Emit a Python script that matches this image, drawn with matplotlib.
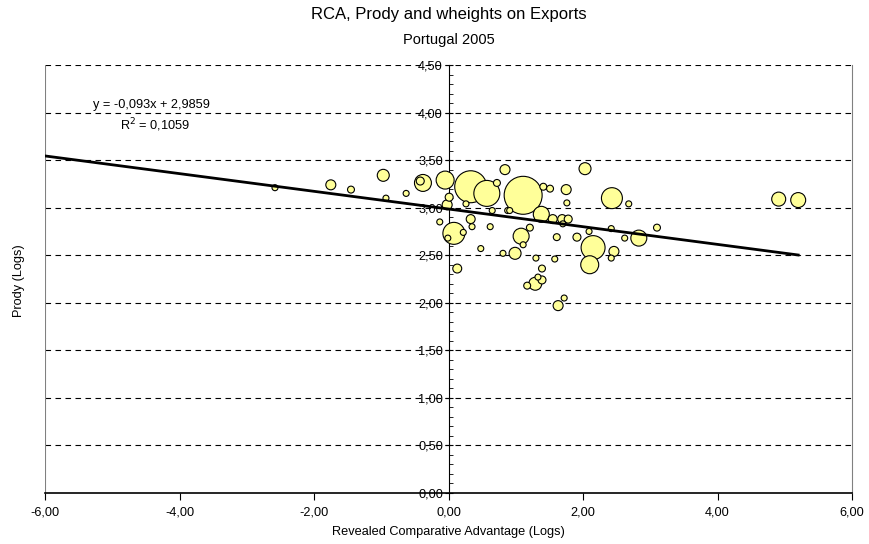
import matplotlib.pyplot as plt
import numpy as np
from matplotlib.ticker import FuncFormatter, MultipleLocator

plt.rcParams['font.family'] = ['Liberation Sans', 'DejaVu Sans']

# revealed comparative advantage (logs) per product
rca = [-2.58, -1.75, -1.45, -0.97, -0.93, -0.63, -0.38, -0.42, -0.05, 0.01,
       -0.02, -0.13, 0.08, -0.01, 0.22, 0.33, 0.35, 0.33, 0.57, 0.26,
       0.72, 0.84, 0.65, 0.62, 0.48, 0.88, 1.11, 0.81, 1.41, 1.51,
       1.75, 1.76, 2.03, 2.43, 2.68, 0.91, 1.38, 1.55, 1.69, 1.78,
       1.70, 1.21, 1.08, 1.11, 1.61, 1.91, 2.09, 2.42, 2.62, 2.83,
       3.10, 2.15, 2.10, 2.46, 2.42, 0.99, 1.30, 1.58, 0.13, 1.39,
       1.29, 1.17, 1.39, 1.33, 1.72, 1.63, 4.91, 5.20]
# prody (logs)
prody = [3.21, 3.24, 3.19, 3.34, 3.10, 3.15, 3.26, 3.28, 3.29, 3.11,
         3.03, 2.85, 2.73, 2.68, 2.74, 2.88, 2.80, 3.22, 3.15, 3.04,
         3.26, 3.40, 2.97, 2.80, 2.57, 2.97, 3.13, 2.52, 3.22, 3.20,
         3.19, 3.05, 3.41, 3.10, 3.04, 2.97, 2.93, 2.88, 2.88, 2.88,
         2.83, 2.79, 2.70, 2.61, 2.69, 2.69, 2.75, 2.78, 2.68, 2.68,
         2.79, 2.58, 2.40, 2.54, 2.47, 2.52, 2.47, 2.46, 2.36, 2.36,
         2.20, 2.18, 2.24, 2.27, 2.05, 1.97, 3.09, 3.08]
# weight of each product in exports (bubble area)
weight = [9, 25, 12, 36, 9, 9, 72, 16, 81, 16,
          25, 9, 121, 9, 9, 20, 9, 256, 169, 9,
          12, 25, 9, 9, 9, 9, 361, 9, 12, 12,
          25, 9, 36, 110, 9, 9, 64, 20, 20, 16,
          9, 12, 64, 9, 12, 16, 9, 9, 9, 64,
          12, 144, 81, 25, 9, 36, 9, 9, 20, 12,
          42, 12, 16, 9, 9, 25, 49, 56]

slope = -0.093
intercept = 2.9859
r2 = 0.1059

fs = 9.2

fig = plt.figure(figsize=(8.69, 5.44), dpi=100)
ax = fig.add_axes([45/869, 51/544, 807/869, 428/544])

x = np.array(rca)
y = np.array(prody)
w = np.array(weight, dtype=float)
order = np.argsort(-w)
ax.scatter(x[order], y[order], s=w[order]*2.07, facecolor='#FFFF99',
           edgecolor='black', linewidths=0.8, zorder=3)

# linear trend
xt = np.array([-6, x.max()])
ax.plot(xt, slope*xt + intercept, color='black', lw=2, zorder=4)

ax.set_xlim(-6, 6)
ax.set_ylim(0, 4.5)
ax.xaxis.set_major_locator(MultipleLocator(2))
ax.yaxis.set_major_locator(MultipleLocator(0.5))
ax.yaxis.set_minor_locator(MultipleLocator(0.1))
fmt = FuncFormatter(lambda v, p: f'{v:.2f}'.replace('.', ','))
ax.xaxis.set_major_formatter(fmt)
ax.yaxis.set_major_formatter(fmt)

for v in np.arange(0.5, 4.51, 0.5):
    ax.axhline(v, color='black', lw=0.8, dashes=(5, 4), zorder=1)

ax.spines['left'].set_position(('data', 0))
ax.spines['left'].set_zorder(2)
ax.spines['top'].set_visible(False)
ax.spines['right'].set_color('#808080')
ax.spines['bottom'].set_linewidth(1.2)
ax.axvline(-6, color='#808080', lw=1.5, zorder=2)

ax.tick_params(axis='y', which='major', direction='inout', length=6,
               labelsize=fs, pad=1)
ax.tick_params(axis='y', which='minor', direction='in', length=3)
ax.tick_params(axis='x', which='major', direction='out', length=5,
               labelsize=fs, pad=5)

ax.set_xlabel('Revealed Comparative Advantage (Logs)', fontsize=fs, labelpad=5)
fig.text(0.022, 0.485, 'Prody (Logs)', rotation=90, fontsize=fs,
         ha='center', va='center')

fig.text(0.517, 0.974, 'RCA, Prody and wheights on Exports', fontsize=12,
         ha='center', va='center')
fig.text(0.517, 0.926, 'Portugal 2005', fontsize=10.5, ha='center',
         va='center')

ax.text(-5.29, 4.08, f'y = {slope:.3f}x + {intercept:.4f}'.replace('.', ','),
        fontsize=fs, va='center', zorder=5)
ax.text(-4.89, 3.87, f'R$^2$ = {r2:.4f}'.replace('.', ','),
        fontsize=fs, va='center', zorder=5)

fig.savefig('out.png', dpi=100)
